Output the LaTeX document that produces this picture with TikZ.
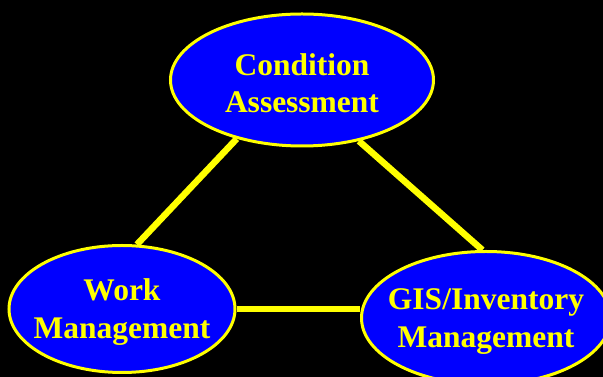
\documentclass[tikz,border=0pt]{standalone}
\usepackage{fontspec}
\setmainfont{Liberation Serif}
\usepackage{tikz}
\usetikzlibrary{shapes,positioning,calc}
\pgfdeclarelayer{bg}
\pgfsetlayers{bg,main}
\definecolor{pblue}{RGB}{0,0,255}
\definecolor{pyellow}{RGB}{255,255,0}
\newcommand{\lift}{\rule{0pt}{28pt}}
\begin{document}
\begin{tikzpicture}[x=1pt,y=1pt]

\tikzset{
    bubble/.style={draw=pyellow, fill=pblue, ellipse, line width=3pt,
        inner xsep=-20pt, inner ysep=0pt, align=center, text=pyellow,
        font=\fontsize{31.5}{37.5}\selectfont\bfseries},
    link/.style={draw=pyellow, line width=6.5pt},
}

  \useasboundingbox (0,0) rectangle (603,377);

  \node [bubble, minimum width=263pt, minimum height=132pt]
  (ca) at (302,297) {\lift Condition\\Assessment};

  \node [bubble, minimum width=226pt, minimum height=127pt]
  (wm) at (122,68) {\lift Work\\Management};

  \node [bubble, minimum width=249pt, minimum height=133pt]
  (gi) at (486,59) {\lift GIS/Inventory\\Management};

\begin{pgfonlayer}{bg}
  \fill [black] (0,0) rectangle (603,377);
  \path [link] (ca.222) -- (wm.77);
  \path [link] (ca.313) -- (gi.93);
  \path [link] (wm) -- (wm-|gi.west);
\end{pgfonlayer}

\end{tikzpicture}
\end{document}
